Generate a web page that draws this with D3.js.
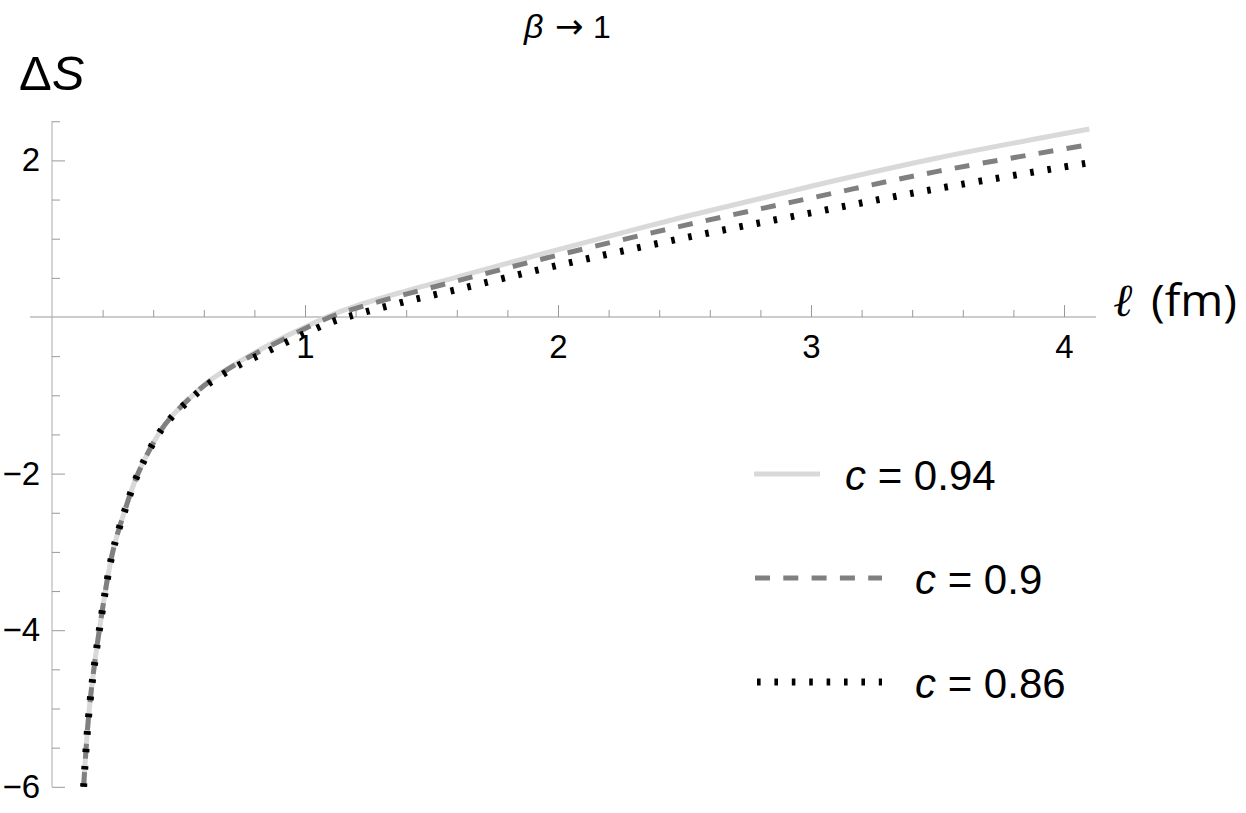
<!DOCTYPE html>
<html>
<head>
<meta charset="utf-8">
<script src="https://cdn.jsdelivr.net/npm/d3@7"></script>
<style>
  html, body { margin: 0; padding: 0; background: #fff; }
  svg { display: block; font-family: 'Liberation Sans', Arial, sans-serif; }
</style>
</head>
<body>
<svg id="chart" width="1246" height="813"></svg>
<script>
// ---- data ----
const ell     = [0.125, 0.1475, 0.187, 0.24, 0.285, 0.34, 0.42, 0.47, 0.55, 0.62, 0.73, 0.85, 0.967, 1.1, 1.2, 1.375, 1.6, 2.0, 2.5, 3.0, 3.5, 4.1];
const dS_c094 = [-6, -5, -4, -3, -2.5, -2, -1.5, -1.28, -1.02, -0.82, -0.59, -0.37, -0.18, 0.02, 0.14, 0.31, 0.51, 0.86, 1.28, 1.67, 2.03, 2.40];
const dS_c090 = [-6, -5, -4, -3, -2.5, -2, -1.5, -1.28, -1.02, -0.83, -0.60, -0.39, -0.20, 0.00, 0.11, 0.27, 0.46, 0.79, 1.17, 1.52, 1.86, 2.20];
const dS_c086 = [-6, -5, -4, -3, -2.5, -2, -1.5, -1.29, -1.04, -0.85, -0.63, -0.44, -0.26, -0.07, 0.03, 0.18, 0.35, 0.66, 1.01, 1.33, 1.64, 1.97];
const seriesLabels = ["0.94", "0.9", "0.86"];
const xTickValues = [1, 2, 3, 4];
const yTickValues = [-6, -4, -2, 2];

// ---- scales ----
const svg = d3.select("#chart");
const x = d3.scaleLinear().domain([0, 4]).range([52, 1064]);
const y = d3.scaleLinear().domain([-6, 2]).range([786.8, 160.4]);

const axisColor = "#999";
const FONT = "'Liberation Sans', Arial, sans-serif";

// x axis
const xAxisY = y(0);
svg.append("line")
  .attr("x1", 30).attr("x2", 1096)
  .attr("y1", xAxisY).attr("y2", xAxisY)
  .attr("stroke", axisColor).attr("stroke-width", 1);

const xMinor = d3.range(1, 21).map(i => i * 0.2).filter(v => Math.abs(v - Math.round(v)) > 1e-6);
const gxMinor = svg.append("g").attr("transform", `translate(0,${xAxisY})`)
  .call(d3.axisBottom(x).tickValues(xMinor).tickSizeInner(-7).tickSizeOuter(0).tickFormat(""));
const gxMajor = svg.append("g").attr("transform", `translate(0,${xAxisY})`)
  .call(d3.axisBottom(x).tickValues(xTickValues).tickSizeInner(-12).tickSizeOuter(0).tickPadding(17.6).tickFormat(d3.format("d")));
[gxMinor, gxMajor].forEach(g => {
  g.attr("font-family", FONT);
  g.select(".domain").remove();
  g.selectAll(".tick line").attr("stroke", axisColor);
});
gxMajor.selectAll(".tick text").attr("fill", "#000").attr("font-size", 33);

// y axis
const yAxisX = x(0);
svg.append("line")
  .attr("x1", yAxisX).attr("x2", yAxisX)
  .attr("y1", y(2.5)).attr("y2", y(-6))
  .attr("stroke", "#aaa").attr("stroke-width", 1);

const yMinor = d3.range(-12, 6).map(i => i * 0.5).filter(v => ![-6, -4, -2, 0, 2].includes(v));
const gyMinor = svg.append("g").attr("transform", `translate(${yAxisX},0)`)
  .call(d3.axisLeft(y).tickValues(yMinor).tickSizeInner(-8).tickSizeOuter(0).tickFormat(""));
const gyMajor = svg.append("g").attr("transform", `translate(${yAxisX},0)`)
  .call(d3.axisLeft(y).tickValues(yTickValues).tickSizeInner(-13).tickSizeOuter(0).tickPadding(12));
[gyMinor, gyMajor].forEach(g => {
  g.attr("font-family", FONT);
  g.select(".domain").remove();
  g.selectAll(".tick line").attr("stroke", axisColor);
});
gyMajor.selectAll(".tick text").attr("fill", "#000").attr("font-size", 33);

// ---- curves ----
const series = [
  { label: seriesLabels[0], values: dS_c094, color: "#d9d9d9", width: 5, dash: null },
  { label: seriesLabels[1], values: dS_c090, color: "#808080", width: 5, dash: "15,13.3" },
  { label: seriesLabels[2], values: dS_c086, color: "#000000", width: 7, dash: "3.6,13.8" }
];

const line = d3.line()
  .x(d => x(d[0]))
  .y(d => y(d[1]))
  .curve(d3.curveCatmullRom.alpha(0.5));

series.forEach(s => {
  svg.append("path")
    .datum(ell.map((l, i) => [l, s.values[i]]))
    .attr("d", line)
    .attr("fill", "none")
    .attr("stroke", s.color)
    .attr("stroke-width", s.width)
    .attr("stroke-dasharray", s.dash)
    .attr("stroke-linecap", "butt");
});

// ---- labels ----
const yLab = svg.append("text").attr("x", 19).attr("y", 90).attr("font-size", 49)
  .attr("font-family", FONT).attr("fill", "#000");
yLab.append("tspan").text("Δ");
yLab.append("tspan").attr("font-style", "italic").text("S");

const xLab = svg.append("g");
xLab.append("text").attr("x", 1113).attr("y", 316).attr("font-size", 46)
  .attr("font-family", "'DejaVu Serif', serif").attr("font-style", "italic").attr("fill", "#000").text("ℓ");
xLab.append("text").attr("x", 1151).attr("y", 316).attr("font-size", 44)
  .attr("font-family", "'Open Sans', 'Liberation Sans', sans-serif")
  .attr("textLength", 86).attr("lengthAdjust", "spacingAndGlyphs").attr("fill", "#000").text("(fm)");

// title  β → 1
const title = svg.append("text").attr("x", 524).attr("y", 38).attr("font-size", 32)
  .attr("font-family", FONT).attr("fill", "#000");
title.append("tspan").attr("font-style", "italic").attr("font-size", 34).text("β");
title.append("tspan").attr("x", 555).attr("font-family", "'DejaVu Sans', sans-serif").attr("font-size", 34).text("→");
title.append("tspan").attr("x", 593).attr("font-size", 32).text("1");

// ---- legend ----
const legendRows = [
  { y: 474, x1: 754, x2: 820, tx: 845, ty: 490 },
  { y: 578, x1: 755, x2: 882, tx: 915, ty: 594 },
  { y: 682, x1: 757, x2: 882, tx: 915, ty: 698 }
];
series.forEach((s, i) => {
  const r = legendRows[i];
  svg.append("line")
    .attr("x1", r.x1).attr("x2", r.x2).attr("y1", r.y).attr("y2", r.y)
    .attr("stroke", s.color).attr("stroke-width", s.width)
    .attr("stroke-dasharray", s.dash);
  const t = svg.append("text").attr("x", r.tx).attr("y", r.ty).attr("font-size", 42)
    .attr("font-family", FONT).attr("fill", "#000");
  t.append("tspan").attr("font-style", "italic").text("c");
  t.append("tspan").text(" = " + s.label);
});
</script>
</body>
</html>
